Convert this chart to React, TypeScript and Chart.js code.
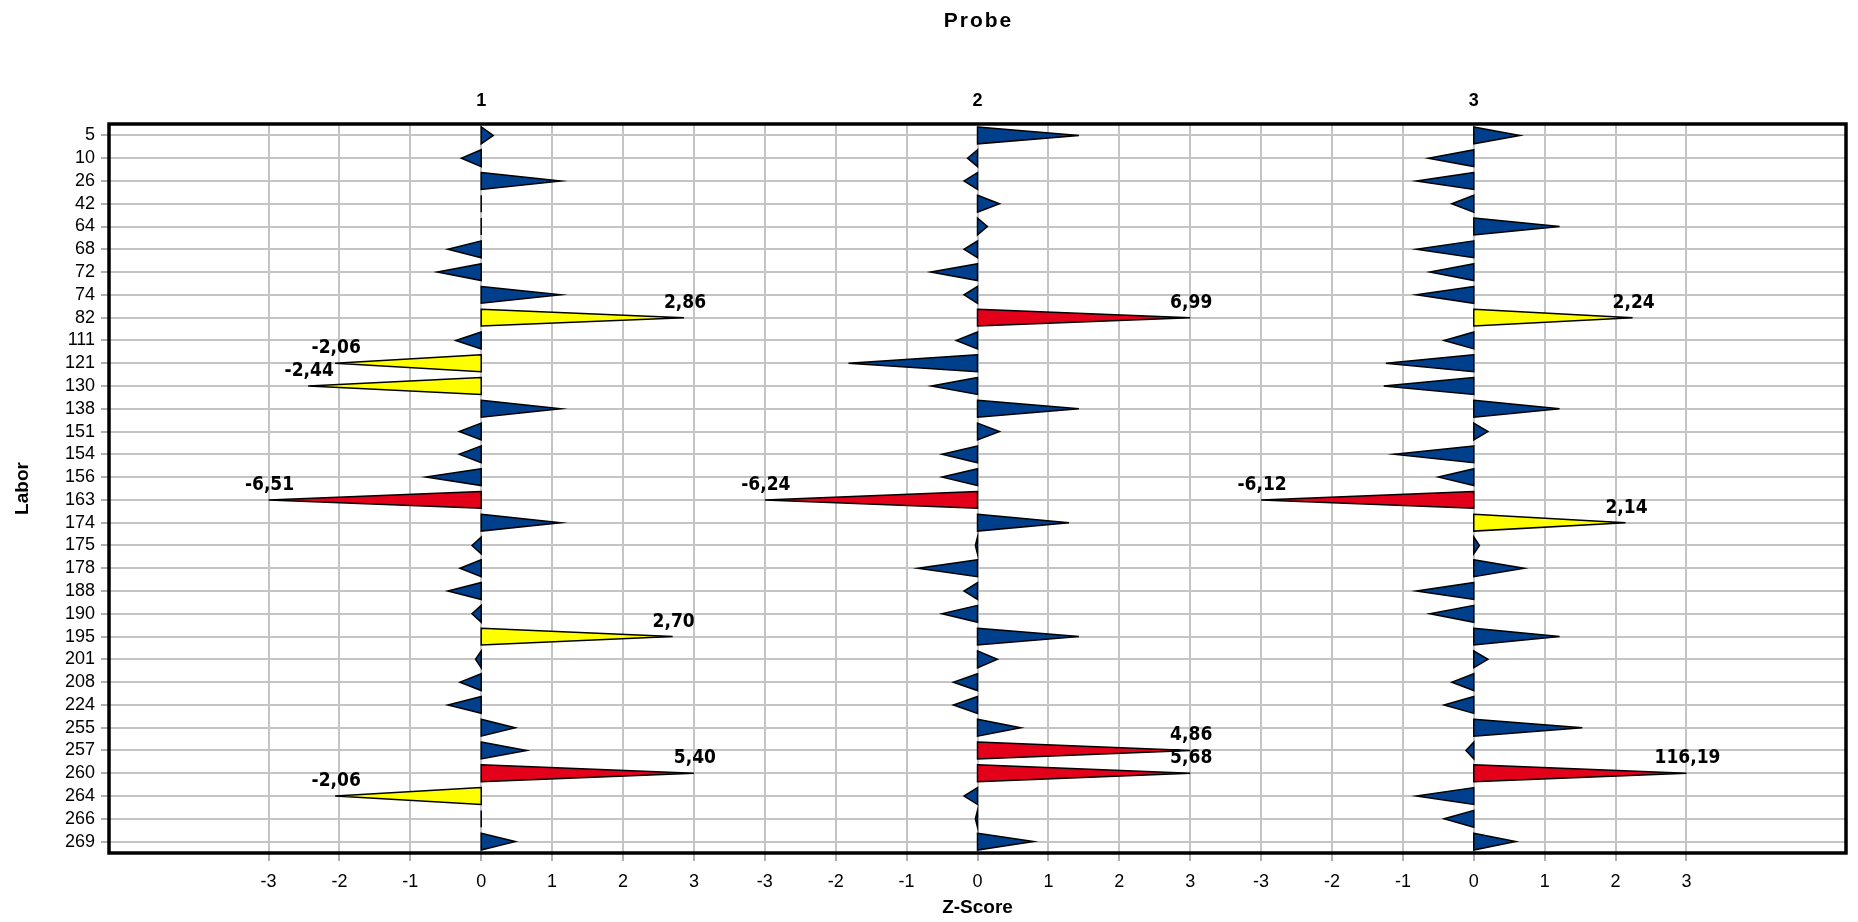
import React, { useEffect, useRef } from 'react';
import { Chart, registerables } from 'chart.js';
Chart.register(...registerables);

const labors = ['5','10','26','42','64','68','72','74','82','111','121','130','138','151','154','156','163','174','175','178','188','190','195','201','208','224','255','257','260','264','266','269'];
const panels = ['1', '2', '3'];
const probe1 = [0.17, -0.28, 1.12, 0.0, 0.0, -0.47, -0.62, 1.12, 2.86, -0.36, -2.06, -2.44, 1.12, -0.31, -0.31, -0.78, -6.51, 1.12, -0.13, -0.30, -0.47, -0.13, 2.70, -0.08, -0.30, -0.47, 0.48, 0.64, 5.40, -2.06, 0.0, 0.48];
const probe2 = [1.43, -0.14, -0.19, 0.31, 0.14, -0.19, -0.66, -0.19, 6.99, -0.30, -1.82, -0.65, 1.43, 0.31, -0.50, -0.50, -6.24, 1.29, -0.03, -0.84, -0.19, -0.50, 1.43, 0.28, -0.34, -0.34, 0.61, 4.86, 5.68, -0.19, -0.03, 0.79];
const probe3 = [0.65, -0.64, -0.81, -0.31, 1.21, -0.81, -0.62, -0.81, 2.24, -0.42, -1.24, -1.27, 1.21, 0.20, -1.12, -0.50, -6.12, 2.14, 0.08, 0.71, -0.81, -0.62, 1.21, 0.20, -0.31, -0.42, 1.53, -0.11, 116.19, -0.81, -0.42, 0.59];
const probeValues = [probe1, probe2, probe3];
const zTicks = [-3, -2, -1, 0, 1, 2, 3];

const PANEL_STEP = 7;
const CLIP = 3;
const BLUE = '#003F8C';
const YELLOW = '#FFFF00';
const RED = '#E2001A';
const BOLD_NARROW = "'Liberation Sans Narrow', 'DejaVu Sans Condensed', 'Liberation Sans', Arial, sans-serif";
const SANS = "'Liberation Sans', Arial, sans-serif";

const colorFor = (v: number) => (Math.abs(v) >= 3 ? RED : Math.abs(v) >= 2 ? YELLOW : BLUE);
const clip = (v: number) => Math.max(-CLIP, Math.min(CLIP, v));

const wedgePlugin = {
  id: 'wedges',
  beforeDraw(chart: any) {
    const { ctx, width, height } = chart;
    ctx.save();
    ctx.fillStyle = '#fff';
    ctx.fillRect(0, 0, width, height);
    ctx.restore();
  },
  afterDatasetsDraw(chart: any) {
    const { ctx } = chart;
    const xs = chart.scales.x;
    ctx.save();
    const geom = (di: number, i: number, el: any) => {
      const v = probeValues[di][i];
      const base = xs.getPixelForValue(di * PANEL_STEP);
      const tip = xs.getPixelForValue(di * PANEL_STEP + clip(v));
      return { v, base, tip, y: el.y, h: el.height };
    };
    chart.data.datasets.forEach((ds: any, di: number) => {
      const meta = chart.getDatasetMeta(di);
      meta.data.forEach((el: any, i: number) => {
        const g = geom(di, i, el);
        ctx.beginPath();
        ctx.moveTo(g.base, g.y - g.h / 2);
        ctx.lineTo(g.tip, g.y);
        ctx.lineTo(g.base, g.y + g.h / 2);
        ctx.closePath();
        ctx.fillStyle = colorFor(g.v);
        ctx.fill();
        ctx.lineWidth = 1.5;
        ctx.strokeStyle = '#000';
        ctx.lineJoin = 'miter';
        ctx.stroke();
      });
    });
    // value labels
    ctx.fillStyle = '#000';
    ctx.font = `bold 19px ${BOLD_NARROW}`;
    ctx.textAlign = 'center';
    ctx.textBaseline = 'alphabetic';
    chart.data.datasets.forEach((ds: any, di: number) => {
      const meta = chart.getDatasetMeta(di);
      meta.data.forEach((el: any, i: number) => {
        const g = geom(di, i, el);
        if (Math.abs(g.v) >= 2) {
          ctx.fillText(g.v.toFixed(2).replace('.', ','), g.tip + 1, g.y - 10);
        }
      });
    });
    ctx.restore();
  },
  afterDraw(chart: any) {
    const { ctx, chartArea } = chart;
    const xs = chart.scales.x;
    ctx.save();
    // frame
    ctx.strokeStyle = '#000';
    ctx.lineWidth = 3.5;
    ctx.strokeRect(chartArea.left, chartArea.top, chartArea.right - chartArea.left, chartArea.bottom - chartArea.top);
    const cx = (chartArea.left + chartArea.right) / 2;
    // title
    ctx.fillStyle = '#000';
    ctx.textAlign = 'center';
    ctx.textBaseline = 'middle';
    ctx.font = `bold 21px ${SANS}`;
    try { (ctx as any).letterSpacing = '2px'; } catch (e) {}
    ctx.fillText('Probe', cx + 1, 21);
    try { (ctx as any).letterSpacing = '0px'; } catch (e) {}
    // panel headers
    ctx.font = `bold 18px ${SANS}`;
    panels.forEach((p, i) => {
      ctx.fillText(p, xs.getPixelForValue(i * PANEL_STEP), 101);
    });
    // axis titles
    ctx.font = `bold 19px ${SANS}`;
    ctx.fillText('Z-Score', cx, 908);
    ctx.save();
    ctx.translate(23, (chartArea.top + chartArea.bottom) / 2);
    ctx.rotate(-Math.PI / 2);
    ctx.fillText('Labor', 0, 0);
    ctx.restore();
    ctx.restore();
  },
};

export default function App() {
  const ref = useRef<HTMLCanvasElement>(null);
  useEffect(() => {
    if (!ref.current) return;
    const datasets = probeValues.map((vals, p) => ({
      label: panels[p],
      data: vals.map((v) => [p * PANEL_STEP, p * PANEL_STEP + clip(v)]),
      backgroundColor: 'rgba(0,0,0,0)',
      borderWidth: 0,
      grouped: false,
      categoryPercentage: 1,
      barPercentage: 0.74,
    }));
    const chart = new Chart(ref.current, {
      type: 'bar',
      data: { labels: labors, datasets: datasets as any },
      plugins: [wedgePlugin],
      options: {
        indexAxis: 'y',
        animation: false,
        responsive: false,
        devicePixelRatio: 1,
        layout: { padding: { left: 0, right: 12, top: 124, bottom: 0 } },
        plugins: { legend: { display: false }, tooltip: { enabled: false }, title: { display: false } },
        scales: {
          x: {
            type: 'linear',
            min: -5.25,
            max: 19.25,
            afterBuildTicks: (scale: any) => {
              const t: any[] = [];
              panels.forEach((_, p) => zTicks.forEach((z) => t.push({ value: p * PANEL_STEP + z })));
              scale.ticks = t;
            },
            afterFit: (scale: any) => { scale.height = 69; },
            ticks: {
              autoSkip: false,
              maxRotation: 0,
              padding: 10,
              color: '#000',
              font: { family: SANS, size: 18 },
              callback: (value: any) => {
                const v = Number(value);
                const p = Math.round(v / PANEL_STEP);
                return String(Math.round(v - p * PANEL_STEP));
              },
            },
            grid: { color: '#c4c4c4', lineWidth: 2, tickLength: 8, tickColor: '#b0b0b0', drawOnChartArea: true },
            border: { display: false },
          },
          y: {
            type: 'category',
            offset: true,
            afterFit: (scale: any) => { scale.width = 109; },
            ticks: {
              autoSkip: false,
              padding: 6,
              color: '#000',
              font: { family: SANS, size: 18 },
            },
            grid: { offset: false, color: '#c4c4c4', lineWidth: 2, tickLength: 8, tickColor: '#b0b0b0' },
            border: { display: false },
          },
        },
      } as any,
    });
    return () => chart.destroy();
  }, []);
  return (
    <div style={{ position: 'fixed', left: 0, top: 0, width: 1858, height: 922, background: '#fff' }}>
      <canvas ref={ref} width={1858} height={922} style={{ display: 'block' }} />
    </div>
  );
}
